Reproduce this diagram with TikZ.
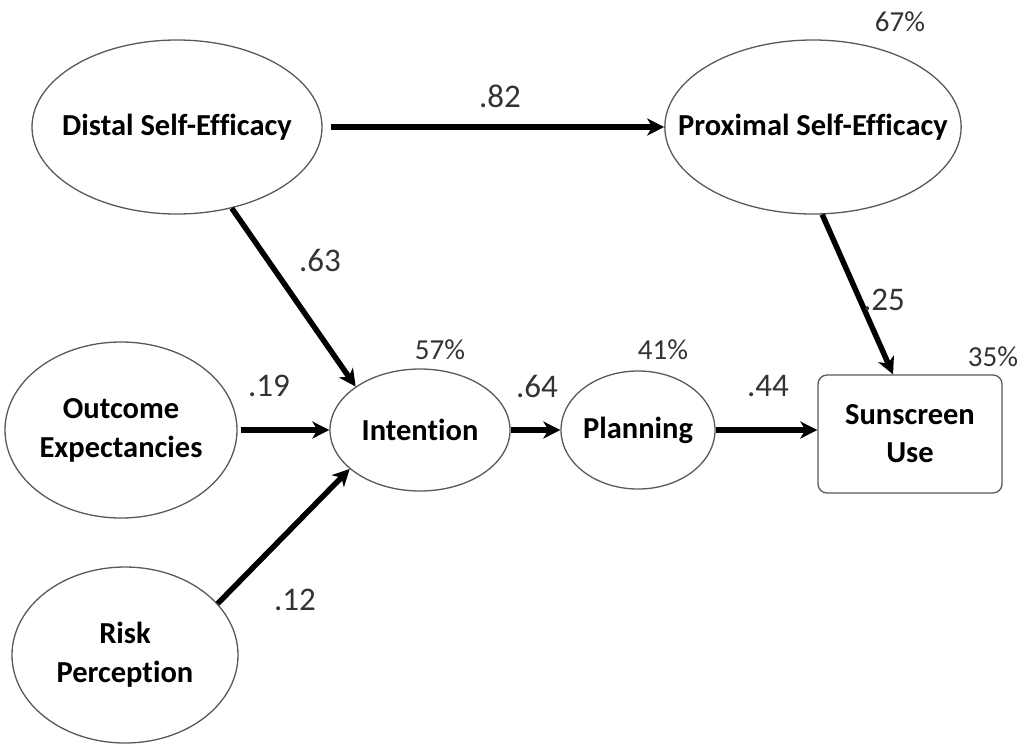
\documentclass[tikz,border=0pt]{standalone}
\usepackage{fontspec}
\setmainfont{Carlito}[Ligatures=NoCommon]
\usetikzlibrary{shapes.geometric,arrows.meta}

\tikzset{
  latent/.style={ellipse, draw=black!65, line width=1.3pt, fill=white, inner sep=-30pt,
    align=center, font=\fontsize{30.5}{39}\selectfont\bfseries},
  observed/.style={rectangle, rounded corners=9pt, draw=black!65, line width=1.3pt,
    fill=white, align=center, font=\fontsize{30.5}{38}\selectfont\bfseries,
    minimum width=184pt, minimum height=118pt},
  path/.style={line width=5.5pt, -{Stealth[length=17pt,width=17pt,inset=5pt]}},
  coef/.style={text=black!80, font=\fontsize{33}{36}\selectfont},
  rsq/.style={text=black!80, font=\fontsize{29}{32}\selectfont},
}

\begin{document}
\begin{tikzpicture}[x=1pt,y=-1pt]
  \useasboundingbox (0,0) rectangle (1024,745);

  % constructs
  \node[latent, minimum width=290pt, minimum height=174pt] (dse) at (177,127) {Distal Self-Efficacy};
  \node[latent, minimum width=284pt, minimum height=174pt] (pse) at (813,127) {Proximal Self-Efficacy};
  \node[latent, minimum width=232pt, minimum height=176pt] (oe) at (121,430) {Outcome\\Expectancies};
  \node[latent, minimum width=226pt, minimum height=176pt] (rp) at (125,655) {Risk\\Perception};
  \node[latent, minimum width=180pt, minimum height=122pt] (int) at (420,430) {Intention};
  \node[latent, minimum width=154pt, minimum height=118pt] (pla) at (638,430) {Planning};
  \node[observed] (sun) at (910,434) {Sunscreen\\Use};

  % paths
  \draw[path, shorten <=8pt] (dse.east) -- (pse.west);
  \draw[path] (dse.-56) -- (int.146);
  \draw[path] (pse.-84) -- ([xshift=-17pt]sun.north);
  \draw[path, shorten <=3pt] (oe.east) -- (int.west);
  \draw[path] (rp.29) -- (int.209);
  \draw[path] (int.east) -- (pla.west);
  \draw[path] (pla.east) -- (pla.east -| sun.west);

  % coefficients
  \node[coef] (c82) at (500,96) {.82};
  \node[coef] (c63) at (320,260) {.63};
  \node[coef] (c25) at (884,300) {.25};
  \node[coef] (c19) at (269,386) {.19};
  \node[coef] (c64) at (537,386) {.64};
  \node[coef] (c44) at (768,386) {.44};
  \node[coef] (c12) at (295,600) {.12};

  % explained variance
  \node[rsq] (r67) at (900,22) {67\%};
  \node[rsq] (r57) at (440,350) {57\%};
  \node[rsq] (r41) at (663,350) {41\%};
  \node[rsq] (r35) at (993,357) {35\%};
\end{tikzpicture}
\end{document}
